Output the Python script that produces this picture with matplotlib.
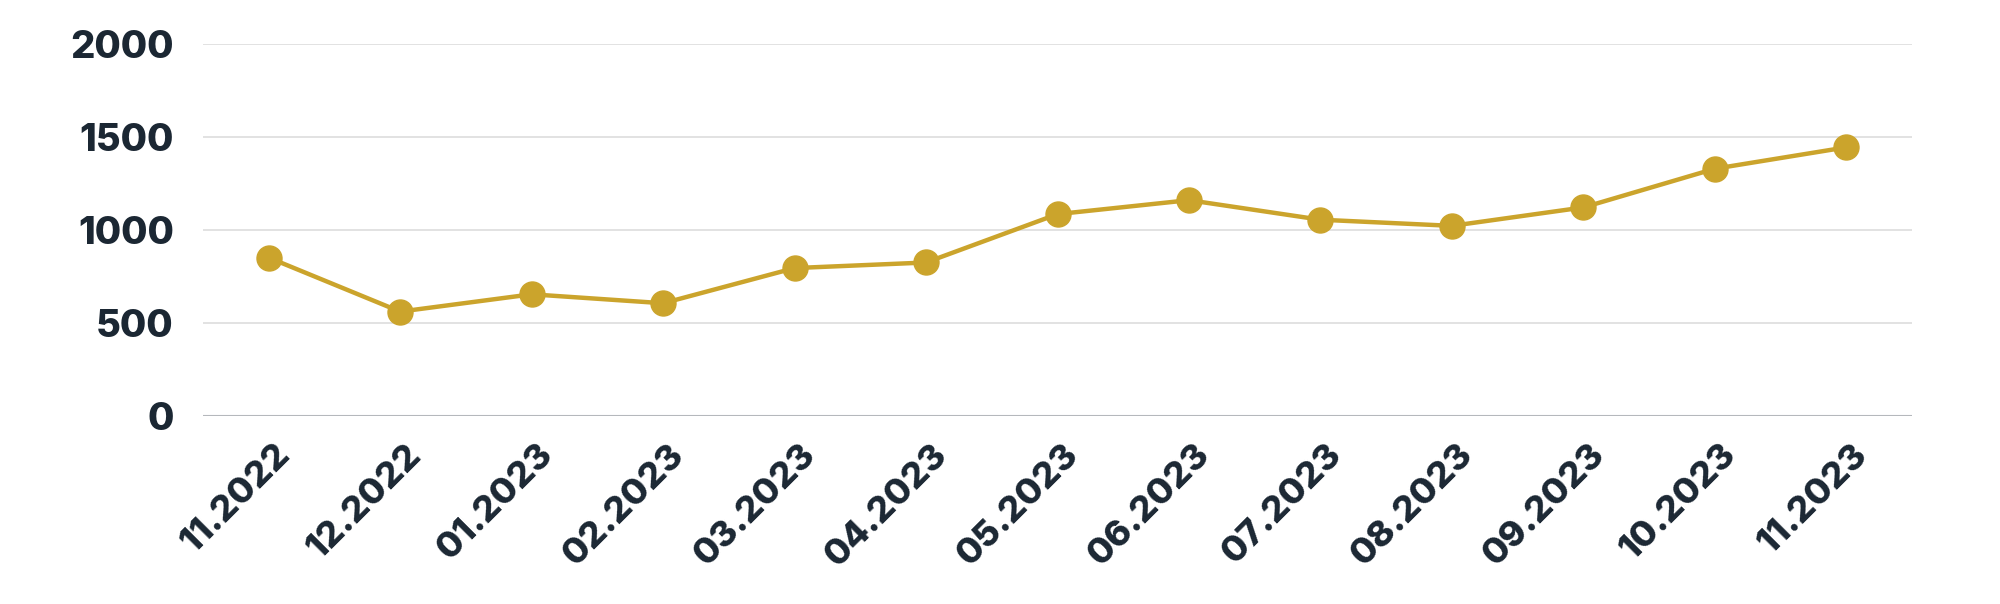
import matplotlib.pyplot as plt
from matplotlib.transforms import ScaledTranslation

months = ['11.2022', '12.2022', '01.2023', '02.2023', '03.2023', '04.2023',
          '05.2023', '06.2023', '07.2023', '08.2023', '09.2023', '10.2023',
          '11.2023']
values = [852, 562, 655, 607, 796, 826, 1086, 1161, 1056, 1023, 1122, 1330, 1445]
y_ticks = [0, 500, 1000, 1500, 2000]

gold = '#CBA42C'
navy = '#1B2733'

plt.rcParams['font.family'] = ['Inter', 'DejaVu Sans']

fig = plt.figure(figsize=(20, 6.04), dpi=100)
ax = fig.add_axes([0.1015, 0.311, 0.8545, 0.616])

x = list(range(len(months)))
ax.plot(x, values, color=gold, linewidth=3.2, marker='o', markersize=18,
        zorder=3)

ax.set_xlim(-0.5, len(months) - 0.5)
ax.set_ylim(0, 2000)
ax.set_yticks(y_ticks)
ax.set_yticklabels([str(v) for v in y_ticks])
ax.set_xticks(x)
ax.set_xticklabels(months, rotation=45, ha='right', va='center',
                   rotation_mode='anchor')

# grid lines
for v in y_ticks[1:]:
    ax.axhline(v, color='#DDDDDD', linewidth=1.2, zorder=1)
ax.axhline(0, color='#B5B8BC', linewidth=1.5, zorder=2)

for s in ax.spines.values():
    s.set_visible(False)

ax.tick_params(axis='both', length=0, colors=navy)
ax.tick_params(axis='y', pad=21, labelsize=27.5)
ax.tick_params(axis='x', pad=24, labelsize=26)
for lab in ax.get_xticklabels() + ax.get_yticklabels():
    lab.set_fontweight('heavy')
    lab.set_color(navy)

offset = ScaledTranslation(16 / 100, 0, fig.dpi_scale_trans)
for lab in ax.get_xticklabels():
    lab.set_transform(lab.get_transform() + offset)

fig.savefig('out.png', dpi=100, facecolor='white')
